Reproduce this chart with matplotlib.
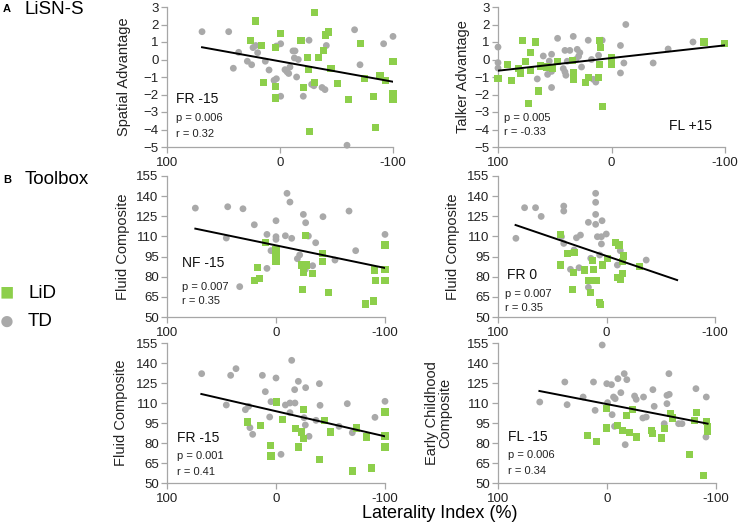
import matplotlib
matplotlib.use("Agg")
import matplotlib.pyplot as plt
import numpy as np

plt.rcParams['font.family'] = ['Liberation Sans', 'DejaVu Sans']

GREEN = '#8DCF4B'
GRAY = '#A9A9A9'

# ---------------- Panel 1: Spatial Advantage, FR -15 ----------------
p1_lid_x = [21.5, -30.7, 26.5, 16.5, -0.3, 4.1, -18.6, -40.4, -42.8, -38.3, -34.2, -24.2, -25.1, -45.1,
            -71.1, -100, 14.2, 4.1, 4.1, -20.6, -30.4, -50.7, -61, -75, -88.5, -93, -83, -100, -100, -26, -84.4]
p1_lid_y = [2.2, 2.7, 1.1, 0.8, 1.5, 0.68, 1.1, 1.4, 1.57, 0.49, 0.1, 0.1, -0.58, -0.49,
            0.9, -0.1, -1.29, -1.53, -2.2, -1.6, -1.29, -1.38, -2.3, -1.1, -0.89, -1.19, -2.1, -1.95, -2.3, -4.1, -3.9]
p1_td_x = [69, 45.4, 41.3, 36.6, 28.9, 25.1, 23.9, 21.5, 19.8, 13, 9.7, 5.3, 3.2, 3.2, -0.6, -0.6, -4.4, -6.2,
           -7.7, -8.8, -11.5, -13.3, -12.7, -16.2, -14.7, -20.6, -25.7, -28, -30, -37.2, -39.8, -41, -66,
           -70.8, -91.7, -100, -59.3]
p1_td_y = [1.59, 1.59, -0.5, 0.41, -0.1, -0.3, 0.68, 0.8, 0.39, -0.1, -0.6, -1.19, -1.1, 0.77, 0.9, -2.1, -0.58, -0.7,
           -0.8, -0.43, 0.49, 0.49, 0.09, 0.0, -1.0, -2.1, 1.1, -1.42, -1.5, -1.6, -1.72, 0.8, 1.7,
           -0.3, 0.9, 1.32, -4.9]
p1_trend_x = [69, -100]
p1_trend_y = [0.7, -1.27]

# ---------------- Panel 2: Talker Advantage, FL +15 ----------------
p2_lid_x = [78.3, 66.9, 71.6, 75.4, 91.5, 100, 88.3, 82.1, 80.1, 71.6, 64.5, 73, 62.5, 57.2, 52.2, 47.5,
            34.6, 33.7, 33.7, 22.9, 20.2, 10.9, 9.4, 10.3, 11.7, 7.9, 0, 0, -81.5, -99.7]
p2_lid_y = [1.1, 1.0, 0.39, -0.09, -0.3, -1.08, -1.19, -0.49, -0.77, -0.62, -1.8, -2.49, -0.37, -0.43, -0.52, -0.09,
            -0.05, -0.77, -1.13, -1.32, -1.04, 1.1, 0.71, -0.3, -1.04, -2.7, 0.1, -0.3, 1.0, 0.9]
p2_td_x = [100, 100, 100, 65.4, 60.1, 52.8, 54.8, 56.3, 52.8, 52.8, 47.5, 41, 36.7, 33.7, 30.2, 27.9, 29, 31.4,
           39, 42.5, 41, 40.2, 26.4, 20.5, 17.6, 16.1, 13.8, 11.4, 8.2, -7.9, -10.9, -7.9, -12.6, -36.7, -49.9, -71.8]
p2_td_y = [0.71, -0.18, -0.49, -1.11, 0.2, 0.3, -0.09, -0.85, -0.68, -1.6, 1.21, 0.52, 0.52, 1.32, 0.58, 0.39, 0.18, 0.0,
           -0.1, -0.52, -0.71, -0.9, -0.43, 1.1, 0.0, -1.13, -1.29, 0.24, 1.1, 0.8, -0.2, -0.77, 2.0, -0.2, 0.6, 1.0]
p2_trend_x = [100, -100]
p2_trend_y = [-0.64, 0.81]

# ---------------- Panel 3: Fluid Composite, NF -15 ----------------
p3_lid_x = [9.5, -27.2, 0, 0, 0, 16.8, 15.3, 19.9, -23.5, -28.1, -25, -33.3, -24.2, -42.8, -42.8, -48,
            -82.3, -89.3, -90.2, -91.4, -100, -100, -100]
p3_lid_y = [105.6, 111, 99.9, 95.4, 91.7, 87.2, 78.8, 77, 88.7, 88.7, 83.3, 82.5, 70.8, 97.4, 91.2, 68.1,
            59.7, 61.9, 85, 77, 103.6, 85.7, 77.5]
p3_td_x = [74, 44.3, 30.3, 45.6, 19.9, 33.3, 8.3, 4.6, 8.3, 0, 0, 0, 1.5, -10.1, -12.8, -8.6, -14.4, -19.6,
           -21.7, -25.1, -27.2, -29.7, -26.9, -33.6, -36.4, -43.1, -54.1, -67, -73.1, -100]
p3_td_y = [131.1, 132.1, 130.6, 108.8, 118.7, 72.6, 111.5, 99.4, 86.2, 121.7, 109.8, 107.8, 99.9, 142.1, 135.6, 110.5,
           108.6, 93.4, 96.2, 126.4, 120.2, 110.3, 85.5, 88.2, 105.3, 124.7, 92.4, 128.9, 99.4, 111.5]
p3_trend_x = [74, -100]
p3_trend_y = [115.8, 86.5]

# ---------------- Panel 4: Fluid Composite, FR 0 ----------------
p4_lid_x = [42.1, 36.3, 29.9, 42.4, 30.8, 31.4, 20, 13, 12.4, 16.1, 9.3, 14.5, 6.3, 5.4, 4.1, -0.5, -8.1,
            -11.5, -15.8, -14.5, -14.5, -10.6, -13, -30.5]
p4_lid_y = [111.5, 97.4, 97.9, 88.7, 83, 70.8, 85, 92.4, 85.5, 77, 77, 68.1, 60.7, 59.4, 88.7, 93.7, 105.6,
            103.6, 95.4, 91.2, 82.5, 79.5, 78, 87.5]
p4_td_x = [83.5, 75.5, 65.4, 60.2, 39.4, 39.4, 41.5, 39.4, 29.9, 27.7, 24, 33.2, 25.3, 16.7, 10, 10, 10, 10,
           4.1, 8.4, 4.7, 0.2, 4.7, 14.5, 16.7, 6.3, -12.7, -10, -36.6]
p4_td_y = [108.6, 131.4, 131.4, 124.9, 132.6, 128.9, 109.8, 104.8, 99.9, 109, 111, 85.5, 86.7, 120.5, 142.1, 135.4,
           126.4, 119, 121.7, 109.8, 109.8, 111.8, 104.4, 93.7, 72.1, 96.2, 99.4, 88.7, 92.4]
p4_trend_x = [83.8, -65.1]
p4_trend_y = [118.5, 77.5]

# ---------------- Panel 5: Fluid Composite, FR -15 ----------------
p5_lid_x = [26.3, 14.1, -0.3, -6.1, 4.9, 4.6, -18, -25.1, -23.5, -25.1, -20.5, -39.8, -44.3, -50.2, -70.3,
            -74, -83.2, -87.8, -100, -100, -100]
p5_lid_y = [95.75, 93.25, 110.75, 97.75, 78.25, 70.25, 90.75, 105, 88.25, 83.25, 77, 67.5, 97, 88.25, 59,
            91.25, 84.5, 61.25, 103.25, 85.25, 77]
p5_td_x = [68.2, 41.6, 36.7, 45.6, 28.1, 25.1, 23.9, 21.4, 12.5, 9.8, 4.6, 5.8, 0, -4.6, -8.6, -12.8, -17.4,
           -12.8, -14.4, -17.1, -20.5, -27.2, -25.7, -26.9, -30.3, -36.7, -39.8, -40.4, -57.8, -65.4, -70,
           -90.8, -100]
p5_td_y = [132, 130.75, 135.75, 108.5, 105, 107.5, 91.5, 86.5, 130.75, 118.5, 111, 99.5, 128.75, 71.5, 108.5,
           110, 110, 102.75, 142, 120, 126.25, 121.5, 99, 93.5, 85, 97, 124.5, 108.25, 92.5, 109.5, 87.75,
           99.25, 111.25]
p5_trend_x = [68.5, -100]
p5_trend_y = [116.75, 85]

# ---------------- Panel 6: Early Childhood Composite, FL -15 ----------------
p6_lid_x = [18.2, 10, 0.2, 0.2, -9.6, -14.5, -17.6, -20.7, -23.7, -27.4, -41.2, -41.8, -50.4, -52.5, -58,
            -59.9, -75.5, -80.1, -82, -91.1, -92.3, -92.3, -88.7]
p6_lid_y = [85.75, 81.25, 105.75, 91.25, 93.25, 89.5, 100.75, 87.75, 105.25, 84.5, 89.5, 87, 83.75, 90.75, 102,
            98.75, 71.5, 97, 102.75, 96.25, 92, 88.75, 55.75]
p6_td_x = [61.7, 38.7, 36.6, 21.9, 12.4, 10.9, 4.4, 0.2, -4.1, -0.5, -4.7, -6, -7.5, -10, -12.7, -15.8, -18.2,
           -6.9, -16.7, -25.3, -26.8, -33.5, -32.9, -36, -42.1, -43.3, -52.5, -55, -55, -57.1, -56.8, -65.7,
           -68.8, -81.6, -91.1, -90.8]
p6_td_y = [110.75, 125.75, 108.75, 114.5, 125.75, 104.5, 153.5, 124.5, 123.75, 110.25, 101.25, 114.5, 113.25,
           128.25, 117.75, 132, 127.5, 92.5, 78.75, 115.25, 112.75, 114.5, 98.75, 99.5, 120, 107.5, 94.5, 109.5,
           115.75, 116.5, 132, 94.5, 94.5, 120.75, 114.5, 84.5]
p6_trend_x = [62, -92.3]
p6_trend_y = [119, 94.5]

x_ticks = [100, 0, -100]
adv_ticks = [3, 2, 1, 0, -1, -2, -3, -4, -5]
comp_ticks = [50, 65, 80, 95, 110, 125, 140, 155]

W, H = 738, 526
fig = plt.figure(figsize=(W / 100, H / 100), dpi=100)

def rect(x0, x1, ytop, ybot):
    return [x0 / W, 1 - ybot / H, (x1 - x0) / W, (ybot - ytop) / H]

panels = [
    dict(box=rect(167, 393, 7, 147), lx=p1_lid_x, ly=p1_lid_y, tx=p1_td_x, ty=p1_td_y, trx=p1_trend_x, tr=p1_trend_y,
         yl='Spatial Advantage', ylim=(-5, 3), yt=adv_ticks, lab='FR -15', labpos=(0.04, 0.34),
         ptxt='p = 0.006', rtxt='r = 0.32', ppos=(0.04, 0.21), rpos=(0.04, 0.095), ylx=-0.16),
    dict(box=rect(498, 725, 7, 147), lx=p2_lid_x, ly=p2_lid_y, tx=p2_td_x, ty=p2_td_y, trx=p2_trend_x, tr=p2_trend_y,
         yl='Talker Advantage', ylim=(-5, 3), yt=adv_ticks, lab='FL +15', labpos=(0.755, 0.15),
         ptxt='p = 0.005', rtxt='r = -0.33', ppos=(0.025, 0.21), rpos=(0.025, 0.11), ylx=-0.123),
    dict(box=rect(167, 385, 176, 317), lx=p3_lid_x, ly=p3_lid_y, tx=p3_td_x, ty=p3_td_y, trx=p3_trend_x, tr=p3_trend_y,
         yl='Fluid Composite', ylim=(50, 155), yt=comp_ticks, lab='NF -15', labpos=(0.07, 0.38),
         ptxt='p = 0.007', rtxt='r = 0.35', ppos=(0.07, 0.21), rpos=(0.07, 0.11), ylx=-0.17),
    dict(box=rect(498, 715, 176, 317), lx=p4_lid_x, ly=p4_lid_y, tx=p4_td_x, ty=p4_td_y, trx=p4_trend_x, tr=p4_trend_y,
         yl='Fluid Composite', ylim=(50, 155), yt=comp_ticks, lab='FR 0', labpos=(0.04, 0.30),
         ptxt='p = 0.007', rtxt='r = 0.35', ppos=(0.03, 0.16), rpos=(0.03, 0.065), ylx=-0.175),
    dict(box=rect(167, 385, 343, 483), lx=p5_lid_x, ly=p5_lid_y, tx=p5_td_x, ty=p5_td_y, trx=p5_trend_x, tr=p5_trend_y,
         yl='Fluid Composite', ylim=(50, 155), yt=comp_ticks, lab='FR -15', labpos=(0.045, 0.32),
         ptxt='p = 0.001', rtxt='r = 0.41', ppos=(0.045, 0.19), rpos=(0.045, 0.08), ylx=-0.18),
    dict(box=rect(498, 716, 343, 483), lx=p6_lid_x, ly=p6_lid_y, tx=p6_td_x, ty=p6_td_y, trx=p6_trend_x, tr=p6_trend_y,
         yl='Early Childhood\nComposite', ylim=(50, 155), yt=comp_ticks, lab='FL -15', labpos=(0.045, 0.33),
         ptxt='p = 0.006', rtxt='r = 0.34', ppos=(0.045, 0.2), rpos=(0.045, 0.086), ylx=-0.21),
]

for P in panels:
    ax = fig.add_axes(P['box'])
    ax.scatter(P['tx'], P['ty'], s=24, marker='o', color=GRAY, edgecolors='none', zorder=2, clip_on=False)
    ax.scatter(P['lx'], P['ly'], s=26, marker='s', color=GREEN, edgecolors='none', zorder=3, clip_on=False)
    ax.plot(P['trx'], P['tr'], color='black', lw=1.4, zorder=4)
    ax.set_xlim(100, -100)
    ax.set_ylim(*P['ylim'])
    ax.set_xticks(x_ticks)
    ax.set_xticklabels([str(v) for v in x_ticks])
    ax.set_yticks(P['yt'])
    for s in ['top', 'right']:
        ax.spines[s].set_visible(False)
    for s in ['left', 'bottom']:
        ax.spines[s].set_color('#A6A6A6')
        ax.spines[s].set_linewidth(0.9)
    ax.tick_params(axis='both', colors='#A6A6A6', labelcolor='#222222', labelsize=9.5, length=4, width=0.9, direction='out')
    ax.tick_params(axis='x', pad=3)
    ax.tick_params(axis='y', pad=2)
    ax.set_ylabel(P['yl'], fontsize=10.5, color='#222222', linespacing=0.95)
    ax.yaxis.set_label_coords(P['ylx'], 0.5)
    ax.patch.set_alpha(0)
    ax.text(*P['labpos'], P['lab'], transform=ax.transAxes, fontsize=10, color='#111111', va='center', ha='left')
    ax.text(*P['ppos'], P['ptxt'], transform=ax.transAxes, fontsize=8, color='#222222', va='center', ha='left')
    ax.text(*P['rpos'], P['rtxt'], transform=ax.transAxes, fontsize=8, color='#222222', va='center', ha='left')

# section labels
fig.text(3 / W, 1 - 9 / H, 'A', fontsize=8, fontweight='bold', va='center', ha='left')
fig.text(25 / W, 1 - 10 / H, 'LiSN-S', fontsize=13.5, va='center', ha='left')
fig.text(3 / W, 1 - 180 / H, 'B', fontsize=8, fontweight='bold', va='center', ha='left')
fig.text(25 / W, 1 - 180 / H, 'Toolbox', fontsize=13.5, va='center', ha='left')

# legend
fig.text(0 / W, 1 - 293 / H, '\u25A0', fontsize=17, color=GREEN, va='center', ha='left')
fig.text(28 / W, 1 - 293 / H, 'LiD', fontsize=13.5, va='center', ha='left')
fig.text(-1 / W, 1 - 322 / H, '\u25CF', fontsize=19, color=GRAY, va='center', ha='left')
fig.text(28 / W, 1 - 322 / H, 'TD', fontsize=13.5, va='center', ha='left')

fig.text(440 / W, 1 - 514 / H, 'Laterality Index (%)', fontsize=13, va='center', ha='center')

fig.savefig('out.png', dpi=100)
